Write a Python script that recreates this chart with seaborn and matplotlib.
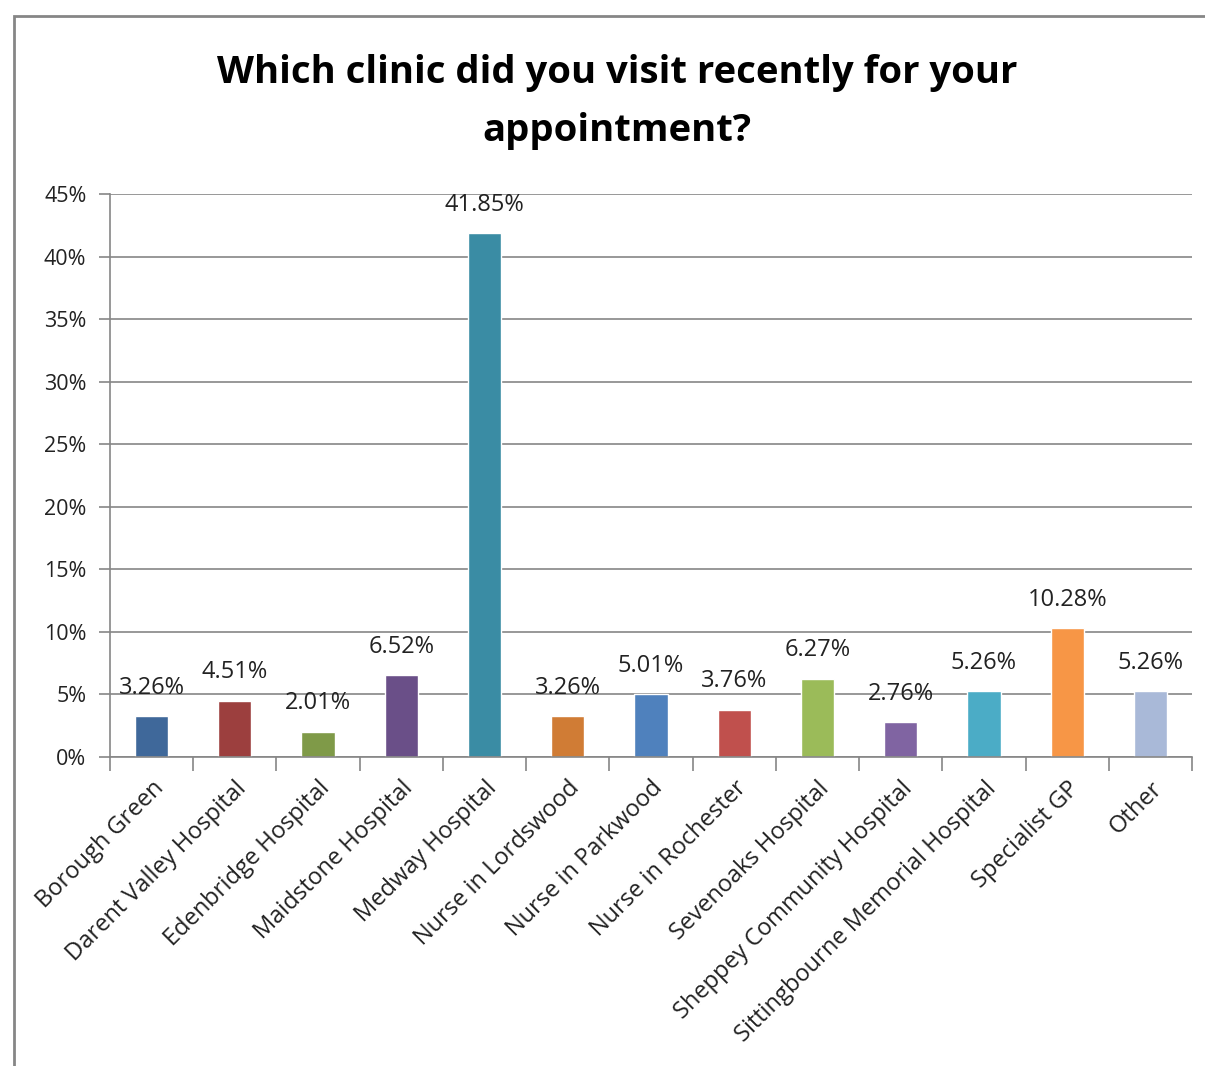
import matplotlib
matplotlib.use("Agg")
import matplotlib.pyplot as plt
import seaborn as sns
import pandas as pd
from matplotlib.patches import Rectangle

categories = ["Borough Green", "Darent Valley Hospital", "Edenbridge Hospital",
              "Maidstone Hospital", "Medway Hospital", "Nurse in Lordswood",
              "Nurse in Parkwood", "Nurse in Rochester", "Sevenoaks Hospital",
              "Sheppey Community Hospital", "Sittingbourne Memorial Hospital",
              "Specialist GP", "Other"]
values = [3.26, 4.51, 2.01, 6.52, 41.85, 3.26, 5.01, 3.76, 6.27, 2.76, 5.26, 10.28, 5.26]
colors = ["#3F689A", "#9C3F3E", "#7F9A48", "#6A4F88", "#3A8CA4", "#D07C35",
          "#4F81BD", "#C0504D", "#9BBB59", "#8064A2", "#4BACC6", "#F79646", "#A9B9D8"]
yticks = [0, 5, 10, 15, 20, 25, 30, 35, 40, 45]
title = "Which clinic did you visit recently for your\nappointment?"

sns.set_style("white")
plt.rcParams['font.family'] = ['Open Sans', 'DejaVu Sans']

fig = plt.figure(figsize=(12.05, 10.66), dpi=100)
ax = fig.add_axes([110/1205, 1-757/1066, (1192-110)/1205, (757-194)/1066])

df = pd.DataFrame({"cat": categories, "val": values})
sns.barplot(data=df, x="cat", y="val", hue="cat", palette=colors, legend=False,
            width=0.4, ax=ax, saturation=1)

ax.set_ylim(0, 45)
ax.set_xlim(-0.5, len(categories) - 0.5)
ax.set_yticks(yticks)
ax.set_yticklabels([f"{t}%" for t in yticks], fontsize=15.5, color="#222222")
ax.yaxis.grid(True, color="#868686", linewidth=1.2)
ax.set_axisbelow(True)
for s in ["top", "right"]:
    ax.spines[s].set_visible(False)
for s in ["left", "bottom"]:
    ax.spines[s].set_color("#868686")
    ax.spines[s].set_linewidth(1.2)
ax.tick_params(axis="y", left=True, length=8, color="#868686", width=1.2, pad=9)

ax.set_xticks([i + 0.5 for i in range(-1, len(categories))], minor=True)
ax.tick_params(axis="x", which="minor", bottom=True, length=10, color="#868686", width=1.2)
ax.tick_params(axis="x", which="major", bottom=False, length=0, pad=14)
ax.set_xticks(range(len(categories)))
ax.set_xticklabels(categories, rotation=45, ha="right", rotation_mode="anchor",
                   fontsize=17, color="#222222")
ax.set_xlabel("")
ax.set_ylabel("")

for i, v in enumerate(values):
    ax.annotate(f"{v:.2f}%", (i, v), xytext=(0, 12), textcoords="offset points",
                ha="center", va="bottom", fontsize=17, color="#222222")

fig.text(0.512, 1 - 102/1066, title, ha="center", va="center", fontsize=27.5,
         fontweight="bold", linespacing=1.68, color="black")

fig.patches.append(Rectangle((14/1205, -0.05), 1.1, 1 - 16/1066 + 0.05,
                             transform=fig.transFigure, fill=False,
                             edgecolor="#868686", linewidth=2))

fig.savefig("out.png", dpi=100)
